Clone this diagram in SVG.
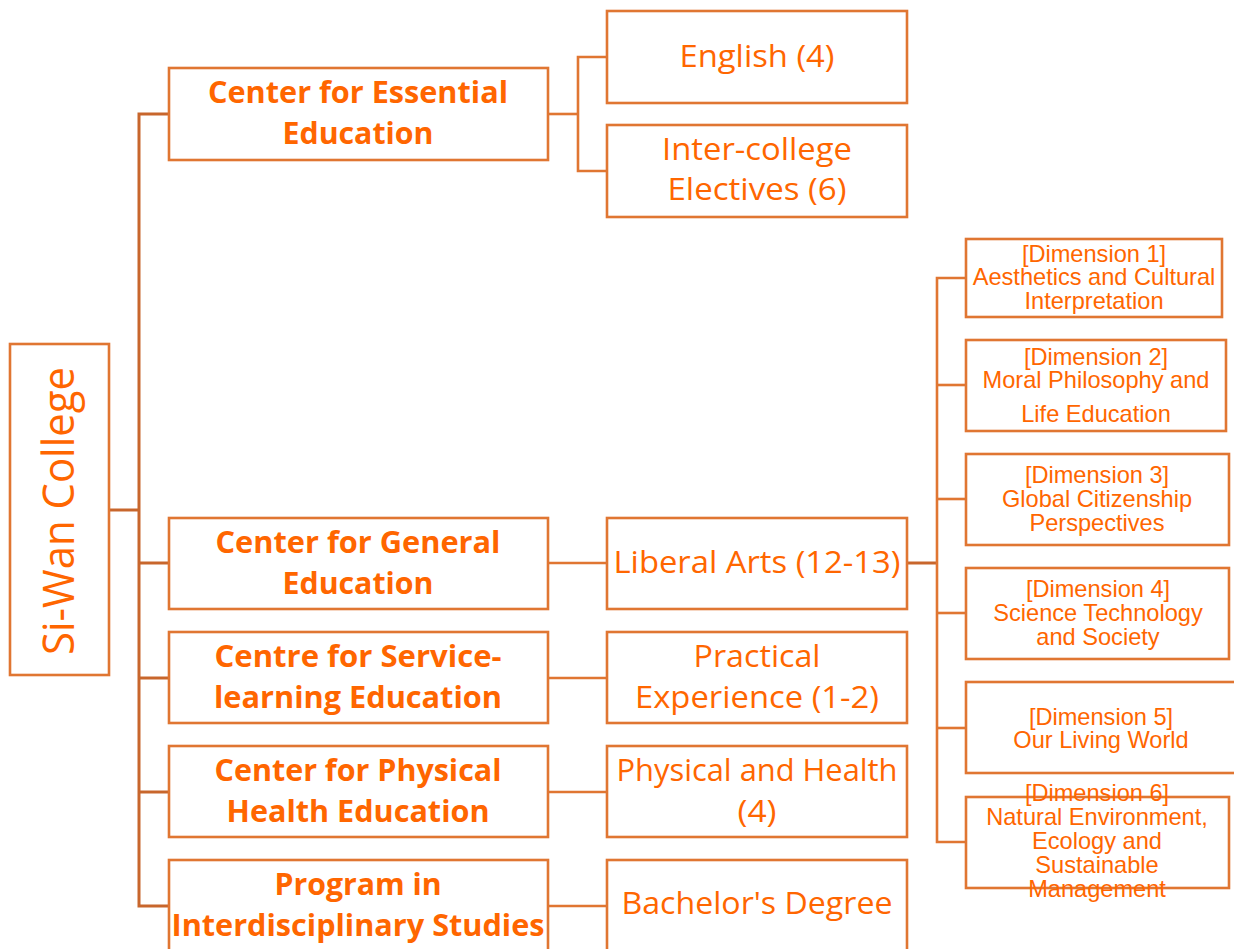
<svg xmlns="http://www.w3.org/2000/svg" width="1234" height="949" viewBox="0 0 1234 949">
<style>
.box{fill:#fff;stroke:#E07632;stroke-width:2.6}
.ln{fill:none;stroke:#E07632;stroke-width:2.6}
.trunk{fill:none;stroke:#C8662C;stroke-width:3}
.b{font-family:"Open Sans","Liberation Sans",sans-serif;font-weight:bold;font-size:31px;fill:#FF6600;text-anchor:middle}
.r{font-family:"Open Sans","Liberation Sans",sans-serif;font-size:31px;fill:#FF6600;text-anchor:middle}
.d{font-family:"Liberation Sans",Arial,sans-serif;font-size:23.6px;fill:#FF6600;text-anchor:middle}
.root{font-family:"Open Sans","Liberation Sans",sans-serif;font-size:44px;fill:#FF6600;text-anchor:middle}
</style>
<rect width="1234" height="949" fill="#fff"/>
<g id="connectors">
<polyline class="trunk" points="109,510 139,510"/>
<polyline class="trunk" points="169,114 139,114 139,906 169,906"/>
<line class="trunk" x1="139" y1="563" x2="169" y2="563"/>
<line class="trunk" x1="139" y1="678" x2="169" y2="678"/>
<line class="trunk" x1="139" y1="792" x2="169" y2="792"/>
<line class="ln" x1="548" y1="114" x2="578" y2="114"/>
<polyline class="ln" points="607,57 578,57 578,171 607,171"/>
<line class="ln" x1="548" y1="563" x2="607" y2="563"/>
<line class="ln" x1="548" y1="678" x2="607" y2="678"/>
<line class="ln" x1="548" y1="792" x2="607" y2="792"/>
<line class="ln" x1="548" y1="906" x2="607" y2="906"/>
<line class="trunk" x1="907" y1="563" x2="937" y2="563"/>
<polyline class="ln" points="966,278 937,278 937,842 966,842"/>
<line class="ln" x1="937" y1="385" x2="966" y2="385"/>
<line class="ln" x1="937" y1="499" x2="966" y2="499"/>
<line class="ln" x1="937" y1="613" x2="966" y2="613"/>
<line class="ln" x1="937" y1="728" x2="966" y2="728"/>
</g>
<g id="root">
<rect class="box" x="10" y="344" width="99" height="331"/>
<text class="root" transform="translate(74,511) rotate(-90)" textLength="288" lengthAdjust="spacingAndGlyphs">Si-Wan College</text>
</g>
<g id="essential">
<rect class="box" x="169" y="68" width="379" height="92"/>
<text class="b" x="358" y="103" textLength="300" lengthAdjust="spacingAndGlyphs">Center for Essential</text>
<text class="b" x="358" y="144" textLength="151" lengthAdjust="spacingAndGlyphs">Education</text>
</g>
<g id="general">
<rect class="box" x="169" y="518" width="379" height="91"/>
<text class="b" x="358" y="553" textLength="285" lengthAdjust="spacingAndGlyphs">Center for General</text>
<text class="b" x="358" y="594" textLength="151" lengthAdjust="spacingAndGlyphs">Education</text>
</g>
<g id="service">
<rect class="box" x="169" y="632" width="379" height="91"/>
<text class="b" x="358" y="667" textLength="287" lengthAdjust="spacingAndGlyphs">Centre for Service-</text>
<text class="b" x="358" y="708" textLength="288" lengthAdjust="spacingAndGlyphs">learning Education</text>
</g>
<g id="physical">
<rect class="box" x="169" y="746" width="379" height="91"/>
<text class="b" x="358" y="781" textLength="287" lengthAdjust="spacingAndGlyphs">Center for Physical</text>
<text class="b" x="358" y="822" textLength="263" lengthAdjust="spacingAndGlyphs">Health Education</text>
</g>
<g id="program">
<rect class="box" x="169" y="860" width="379" height="92"/>
<text class="b" x="358" y="895" textLength="167" lengthAdjust="spacingAndGlyphs">Program in</text>
<text class="b" x="358" y="936" textLength="373" lengthAdjust="spacingAndGlyphs">Interdisciplinary Studies</text>
</g>
<g id="english">
<rect class="box" x="607" y="11" width="300" height="92"/>
<text class="r" x="757" y="67" textLength="155" lengthAdjust="spacingAndGlyphs">English (4)</text>
</g>
<g id="intercollege">
<rect class="box" x="607" y="125" width="300" height="92"/>
<text class="r" x="757" y="160" textLength="190" lengthAdjust="spacingAndGlyphs">Inter-college</text>
<text class="r" x="757" y="200" textLength="179" lengthAdjust="spacingAndGlyphs">Electives (6)</text>
</g>
<g id="liberal">
<rect class="box" x="607" y="518" width="300" height="91"/>
<text class="r" x="757" y="573" textLength="287" lengthAdjust="spacingAndGlyphs">Liberal Arts (12-13)</text>
</g>
<g id="practical">
<rect class="box" x="607" y="632" width="300" height="91"/>
<text class="r" x="757" y="667" textLength="127" lengthAdjust="spacingAndGlyphs">Practical</text>
<text class="r" x="757" y="708" textLength="244" lengthAdjust="spacingAndGlyphs">Experience (1-2)</text>
</g>
<g id="physhealth">
<rect class="box" x="607" y="746" width="300" height="91"/>
<text class="r" x="757" y="781" textLength="281" lengthAdjust="spacingAndGlyphs">Physical and Health</text>
<text class="r" x="757" y="822" textLength="39" lengthAdjust="spacingAndGlyphs">(4)</text>
</g>
<g id="bachelor">
<rect class="box" x="607" y="860" width="300" height="92"/>
<text class="r" x="757" y="914" textLength="271" lengthAdjust="spacingAndGlyphs">Bachelor's Degree</text>
</g>
<g id="dim1">
<rect class="box" x="966" y="239" width="256" height="78"/>
<text class="d" x="1094" y="262">[Dimension 1]</text>
<text class="d" x="1094" y="285">Aesthetics and Cultural</text>
<text class="d" x="1094" y="309">Interpretation</text>
</g>
<g id="dim2">
<rect class="box" x="966" y="340" width="260" height="91"/>
<text class="d" x="1096" y="365">[Dimension 2]</text>
<text class="d" x="1096" y="388">Moral Philosophy and</text>
<text class="d" x="1096" y="422">Life Education</text>
</g>
<g id="dim3">
<rect class="box" x="966" y="454" width="263" height="91"/>
<text class="d" x="1097" y="483">[Dimension 3]</text>
<text class="d" x="1097" y="507">Global Citizenship</text>
<text class="d" x="1097" y="531">Perspectives</text>
</g>
<g id="dim4">
<rect class="box" x="966" y="568" width="263" height="91"/>
<text class="d" x="1098" y="597">[Dimension 4]</text>
<text class="d" x="1098" y="621">Science Technology</text>
<text class="d" x="1098" y="645">and Society</text>
</g>
<g id="dim5">
<rect class="box" x="966" y="682" width="276" height="91"/>
<text class="d" x="1101" y="725">[Dimension 5]</text>
<text class="d" x="1101" y="748">Our Living World</text>
</g>
<g id="dim6">
<rect class="box" x="966" y="797" width="263" height="91"/>
<text class="d" x="1097" y="801">[Dimension 6]</text>
<text class="d" x="1097" y="825">Natural Environment,</text>
<text class="d" x="1097" y="849">Ecology and</text>
<text class="d" x="1097" y="873">Sustainable</text>
<text class="d" x="1097" y="897">Management</text>
</g>
</svg>
